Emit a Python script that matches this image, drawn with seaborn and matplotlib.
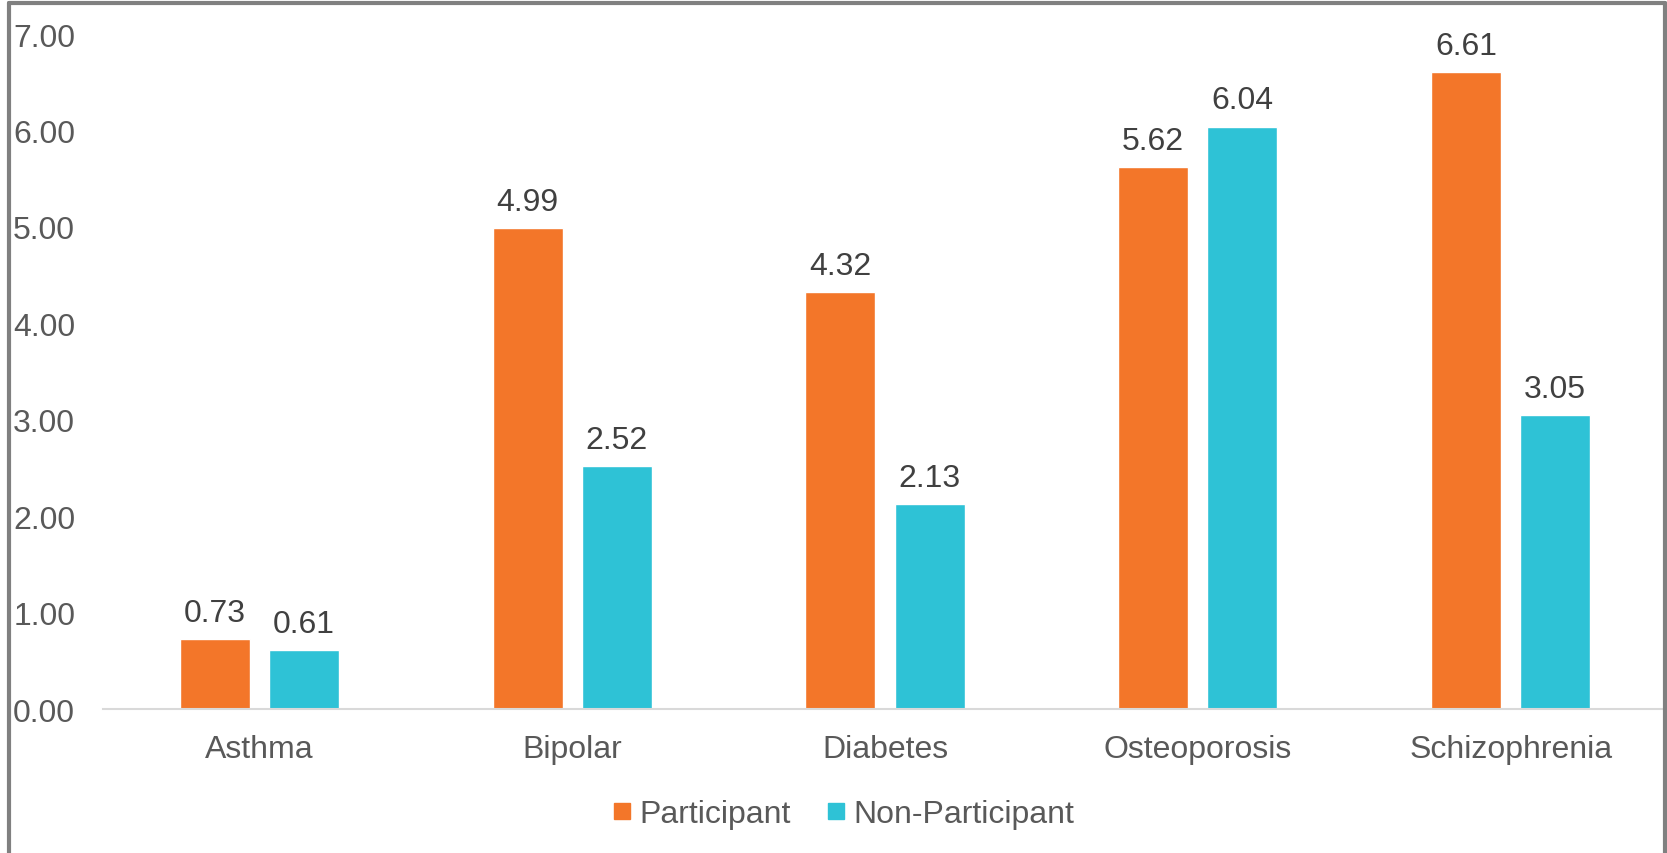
import matplotlib
matplotlib.use("Agg")
import matplotlib.pyplot as plt
from matplotlib.lines import Line2D
import seaborn as sns
import pandas as pd

categories = ["Asthma", "Bipolar", "Diabetes", "Osteoporosis", "Schizophrenia"]
participant = [0.73, 4.99, 4.32, 5.62, 6.61]
non_participant = [0.61, 2.52, 2.13, 6.04, 3.05]
series_names = ["Participant", "Non-Participant"]
y_ticks = [0, 1, 2, 3, 4, 5, 6, 7]

colors = {"Participant": "#F37629", "Non-Participant": "#2EC2D6"}

df = pd.DataFrame({
    "Condition": categories * 2,
    "Value": participant + non_participant,
    "Group": [series_names[0]] * len(categories) + [series_names[1]] * len(categories),
})

sns.set_theme(style="white")
plt.rcParams["font.family"] = ["Liberation Sans", "DejaVu Sans"]

FS = 23

fig = plt.figure(figsize=(16.67, 8.54), dpi=100)
ax = fig.add_axes([0.0618, 0.1686, 0.9382, 0.7904])

sns.barplot(data=df, x="Condition", y="Value", hue="Group", order=categories,
            hue_order=series_names, palette=colors, width=0.57, gap=0.214,
            saturation=1, ax=ax, legend=False, errorbar=None)

ax.set_ylim(0, 7)
ax.set_yticks(y_ticks)
ax.set_yticklabels([f"{t:.2f}" for t in y_ticks])
ax.set_xlim(-0.5, len(categories) - 0.5)
ax.set_xlabel("")
ax.set_ylabel("")

for c in ax.containers:
    ax.bar_label(c, fmt="%.2f", padding=8, fontsize=FS, color="#404040", clip_on=False)

ax.tick_params(axis="y", length=0, pad=20, labelsize=FS, labelcolor="#595959")
ax.tick_params(axis="x", length=0, pad=18, labelsize=FS, labelcolor="#595959")

for s in ["top", "right", "left"]:
    ax.spines[s].set_visible(False)
ax.spines["bottom"].set_color("#D9D9D9")
ax.spines["bottom"].set_linewidth(1.5)
ax.grid(False)

handles = [Line2D([0], [0], marker="s", linestyle="", markersize=12,
                  markerfacecolor=colors[n], markeredgecolor=colors[n]) for n in series_names]
leg = fig.legend(handles, series_names, loc="center", bbox_to_anchor=(0.504, 0.046),
                 ncol=2, frameon=False, fontsize=FS, handletextpad=0.05,
                 columnspacing=0.9, handlelength=1.0)
for t in leg.get_texts():
    t.set_color("#595959")

# chart frame
frame_kw = dict(color="#808080", linewidth=3, transform=fig.transFigure, clip_on=False)
W, H = 1667, 854
fig.add_artist(Line2D([9 / W, 1665 / W], [1 - 4 / H, 1 - 4 / H], **frame_kw))
fig.add_artist(Line2D([9 / W, 9 / W], [0, 1 - 4 / H], **frame_kw))
fig.add_artist(Line2D([1665 / W, 1665 / W], [0, 1 - 4 / H], **frame_kw))

fig.savefig("out.png", dpi=100)
